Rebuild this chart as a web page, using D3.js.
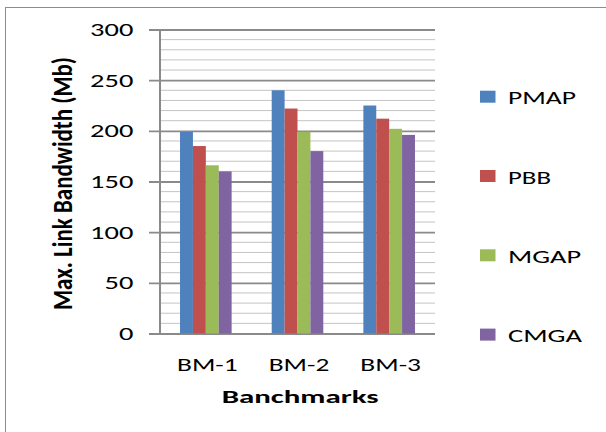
<!DOCTYPE html>
<html>
<head>
<meta charset="utf-8">
<script src="https://cdn.jsdelivr.net/npm/d3@7"></script>
<style>
  body { margin: 0; background: #fff; }
  text { font-family: Carlito, Calibri, Lato, "Liberation Sans", sans-serif; fill: #000; }
</style>
</head>
<body>
<div id="chart"></div>
<script>
// Data
const categories = ["BM-1", "BM-2", "BM-3"];
const seriesNames = ["PMAP", "PBB", "MGAP", "CMGA"];
const pmap = [199, 240, 225];
const pbb = [185, 222, 212];
const mgap = [166, 199, 202];
const cmga = [160, 180, 196];
const yTicks = [0, 50, 100, 150, 200, 250, 300];

const seriesValues = [pmap, pbb, mgap, cmga];
const color = d3.scaleOrdinal()
  .domain(seriesNames)
  .range(["#4F81BD", "#C0504D", "#9BBB59", "#8064A2"]);

const W = 606, H = 432;
const plot = { left: 160, right: 435, top: 29.5, bottom: 333.5 };
const stretch = 1.48; // the picture is widened horizontally

const svg = d3.select("#chart").append("svg")
  .attr("width", W)
  .attr("height", H);

// outer frame (only left and top show)
svg.append("rect")
  .attr("x", 5.5).attr("y", 7.5)
  .attr("width", 700).attr("height", 500)
  .attr("fill", "none")
  .attr("stroke", "#8c8c8c")
  .attr("stroke-width", 1);

const y = d3.scaleLinear().domain([0, 300]).range([plot.bottom, plot.top]);
const x0 = d3.scaleBand().domain(categories)
  .range([plot.left, plot.right])
  .paddingInner(0.437).paddingOuter(0.2185);
const x1 = d3.scaleBand().domain(seriesNames)
  .range([0, x0.bandwidth()]);

// minor gridlines every 10
svg.append("g")
  .selectAll("line")
  .data(d3.range(10, 300, 10).filter(v => v % 50 !== 0))
  .join("line")
  .attr("x1", plot.left).attr("x2", plot.right)
  .attr("y1", d => y(d)).attr("y2", d => y(d))
  .attr("stroke", "#c4c4c4")
  .attr("stroke-width", 1);

// major gridlines with ticks out to the left
const yAxis = svg.append("g")
  .attr("transform", `translate(${plot.left},0)`)
  .call(d3.axisLeft(y).tickValues(yTicks)
    .tickSize(-(plot.right - plot.left)).tickFormat(""));
yAxis.select(".domain").remove();
yAxis.selectAll(".tick line")
  .attr("stroke", "#8a8a8a")
  .attr("stroke-width", 1.8)
  .attr("x1", -11);

// vertical axis line
svg.append("line")
  .attr("x1", plot.left).attr("x2", plot.left)
  .attr("y1", plot.top).attr("y2", plot.bottom)
  .attr("stroke", "#8a8a8a")
  .attr("stroke-width", 2);

// bars
const groups = svg.append("g")
  .selectAll("g")
  .data(categories)
  .join("g")
  .attr("transform", d => `translate(${x0(d)},0)`);

groups.selectAll("rect")
  .data((c, i) => seriesNames.map((s, k) => ({ s, v: seriesValues[k][i] })))
  .join("rect")
  .attr("x", d => x1(d.s))
  .attr("y", d => y(d.v))
  .attr("width", x1.bandwidth())
  .attr("height", d => y(0) - y(d.v))
  .attr("fill", d => color(d.s));

// y tick labels
svg.append("g")
  .selectAll("text")
  .data(yTicks)
  .join("text")
  .attr("x", d => 133.3 - String(d).length * 14.4)
  .attr("y", d => y(d) + 6.5)
  .attr("font-size", 18)
  .attr("textLength", d => String(d).length * 14.4)
  .attr("lengthAdjust", "spacingAndGlyphs")
  .text(d => d);

// category labels
svg.append("g")
  .selectAll("text")
  .data(categories)
  .join("text")
  .attr("x", d => x0(d) + x0.bandwidth() / 2 + 1.5 - 30.3)
  .attr("y", 370.7)
  .attr("font-size", 18)
  .attr("textLength", 60.6)
  .attr("lengthAdjust", "spacingAndGlyphs")
  .text(d => d);

// x axis title
svg.append("text")
  .attr("x", 221.7)
  .attr("y", 402.7)
  .attr("font-size", 17.5)
  .attr("font-weight", "bold")
  .attr("textLength", 157)
  .attr("lengthAdjust", "spacingAndGlyphs")
  .text("Banchmarks");

// y axis title
svg.append("text")
  .attr("transform", `translate(71.5,183.5) rotate(-90) scale(1,${stretch})`)
  .attr("x", -126.5)
  .attr("y", 0)
  .attr("font-size", 19)
  .attr("font-weight", "bold")
  .attr("textLength", 253)
  .attr("lengthAdjust", "spacingAndGlyphs")
  .text("Max. Link Bandwidth (Mb)");

// legend
const legendWidths = { PMAP: 68, PBB: 43, MGAP: 73, CMGA: 74 };
const legend = svg.append("g")
  .selectAll("g")
  .data(seriesNames)
  .join("g")
  .attr("transform", (d, i) => `translate(480,${96.7 + i * 79.3})`);

legend.append("rect")
  .attr("x", 0).attr("y", -6)
  .attr("width", 15.5).attr("height", 12)
  .attr("fill", d => color(d));

legend.append("text")
  .attr("x", 28)
  .attr("y", 7.5)
  .attr("font-size", 18.5)
  .attr("textLength", d => legendWidths[d])
  .attr("lengthAdjust", "spacingAndGlyphs")
  .text(d => d);
</script>
</body>
</html>
